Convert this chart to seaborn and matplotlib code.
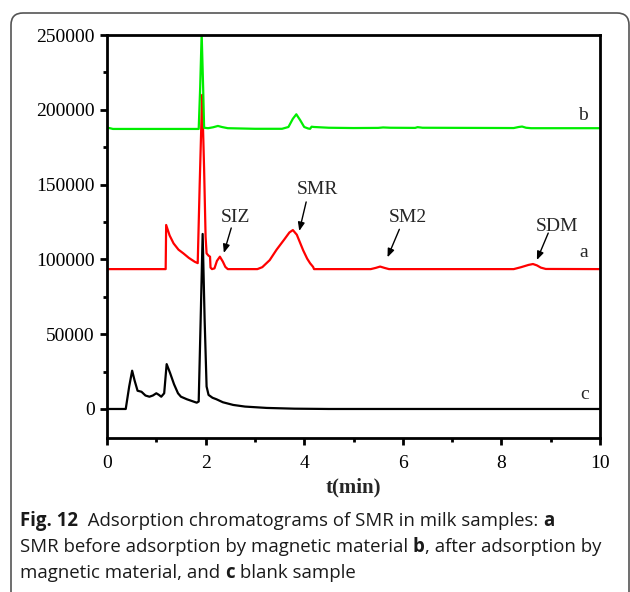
import numpy as np
import pandas as pd
import matplotlib
matplotlib.use("Agg")
import matplotlib.pyplot as plt
import seaborn as sns
from matplotlib.patches import FancyBboxPatch
from matplotlib.transforms import IdentityTransform
from matplotlib.ticker import MultipleLocator

# ---- data ----
t_c = [0, 0.38, 0.45, 0.51, 0.56, 0.62, 0.70, 0.78, 0.86, 0.93, 1.00, 1.05, 1.10, 1.16, 1.21,
       1.28, 1.36, 1.44, 1.50, 1.62, 1.75, 1.82, 1.86, 1.90, 1.94, 1.98, 2.02, 2.06, 2.14, 2.22,
       2.35, 2.56, 2.80, 3.24, 3.80, 4.50, 10.0]
y_c = [0, 0, 15000, 25600, 19000, 12200, 11500, 9000, 8200, 9000, 10500, 9500, 8200, 10500, 30000,
       24000, 16500, 10500, 8200, 6500, 5000, 4200, 5000, 60000, 117000, 60000, 15000, 9400, 7500, 6500,
       4500, 2700, 1600, 700, 200, 0, 0]

t_a = [0, 1.19, 1.20, 1.27, 1.35, 1.45, 1.55, 1.66, 1.78, 1.84, 1.88, 1.93, 1.97, 2.00, 2.02, 2.06,
       2.09, 2.10, 2.13, 2.18, 2.23, 2.29, 2.35, 2.40, 2.45, 3.05, 3.15, 3.30, 3.44, 3.60, 3.70, 3.77,
       3.85, 3.98, 4.06, 4.12, 4.18, 4.20, 5.35, 5.45, 5.54, 5.63, 5.72, 8.25, 8.40, 8.55, 8.64, 8.72,
       8.80, 8.90, 10.0]
y_a = [93500, 93500, 123000, 116000, 110700, 106500, 104000, 101000, 98400, 97500, 150000, 210000,
       160000, 115000, 104000, 102500, 101800, 94500, 93500, 94000, 99000, 101800, 98500, 95000, 93500,
       93500, 94800, 99500, 106500, 113500, 118000, 119600, 116500, 106000, 100500, 97400, 95000, 93500,
       93500, 94300, 95200, 94300, 93500, 93500, 94800, 96300, 96900, 96000, 94500, 93600, 93500]

t_b = [0, 0.06, 0.12, 1.86, 1.89, 1.92, 1.95, 1.97, 2.05, 2.15, 2.25, 2.33, 2.45, 3.00, 3.55, 3.68,
       3.77, 3.84, 3.92, 4.00, 4.08, 4.12, 4.15, 4.20, 4.50, 5.00, 5.50, 5.60, 5.75, 6.25, 6.30, 6.40,
       8.25, 8.35, 8.42, 8.50, 8.60, 10.0]
y_b = [188000, 187700, 187200, 187200, 215000, 251000, 215000, 188000, 187700, 188300, 189200, 188500,
       187700, 187300, 187300, 188500, 194000, 197000, 193000, 188500, 187500, 187300, 188700, 188500,
       188000, 187800, 187900, 188200, 188000, 187900, 188400, 188000, 187800, 188500, 188800, 188000,
       187700, 187700]

curve_labels = ["b", "a", "c"]
peak_names = ["SIZ", "SMR", "SM2", "SDM"]
x_ticks = [0, 2, 4, 6, 8, 10]
y_ticks = [0, 50000, 100000, 150000, 200000, 250000]

# ---- style ----
sns.set_style("ticks")
plt.rcParams["font.family"] = ["Liberation Serif", "DejaVu Serif"]
plt.rcParams["axes.linewidth"] = 2.0

W, H = 630, 592
fig = plt.figure(figsize=(W / 100, H / 100), dpi=100)
fig.patch.set_facecolor("white")

# rounded frame around figure
frame = FancyBboxPatch((11, -30), 618, H - 13 + 30,
                       boxstyle="round,pad=0,rounding_size=12",
                       transform=IdentityTransform(), fill=False,
                       edgecolor="#555555", linewidth=1.2)
fig.patches.append(frame)

ax = fig.add_axes([107 / W, 1 - 438 / H, 493 / W, 403 / H])

sns.lineplot(x=t_a, y=y_a, color="#ff0000", lw=1.6, sort=False, estimator=None, ax=ax)
sns.lineplot(x=t_c, y=y_c, color="black", lw=1.6, sort=False, estimator=None, ax=ax)
sns.lineplot(x=t_b, y=y_b, color="#00ee00", lw=1.6, sort=False, estimator=None, ax=ax)

ax.set_xlim(0, 10)
ax.set_ylim(-19400, 250000)
ax.set_xticks(x_ticks)
ax.set_yticks(y_ticks)
ax.set_xticklabels([str(v) for v in x_ticks])
ax.set_yticklabels([str(v) for v in y_ticks])
ax.xaxis.set_minor_locator(MultipleLocator(1))
ax.yaxis.set_minor_locator(MultipleLocator(25000))
for s in ax.spines.values():
    s.set_visible(True)
    s.set_linewidth(2.0)
    s.set_color("black")
ax.tick_params(which="major", direction="out", length=5, width=2, labelsize=14, pad=4, colors="black")
ax.tick_params(which="minor", direction="out", length=3, width=2, colors="black")
ax.tick_params(axis="x", which="major", pad=7)
ax.set_xlabel("t(min)", fontsize=15, fontweight="bold", labelpad=4)
ax.set_ylabel("")

# curve labels
ax.text(9.66, 196500, curve_labels[0], fontsize=14, ha="center", va="center")
ax.text(9.66, 104300, curve_labels[1], fontsize=14, ha="center", va="center")
ax.text(9.68, 9400, curve_labels[2], fontsize=14, ha="center", va="center")

# peak annotations
ann = [
    (peak_names[0], (2.60, 128300), (2.52, 121000), (2.37, 104300)),
    (peak_names[1], (4.26, 146400), (4.04, 138400), (3.90, 119000)),
    (peak_names[2], (6.11, 128300), (5.93, 120100), (5.69, 101400)),
    (peak_names[3], (9.12, 122300), (8.95, 117600), (8.72, 99600)),
]
for name, tpos, tail, tip in ann:
    ax.text(tpos[0], tpos[1], name, fontsize=14, ha="center", va="center")
    ax.annotate("", xy=tip, xytext=tail,
                arrowprops=dict(arrowstyle="-|>,head_length=0.5,head_width=0.2",
                                color="black", lw=1.0, shrinkA=0, shrinkB=0))

# caption
cap_font = ["Open Sans", "DejaVu Sans"]
cap_size = 13.4
lines = [
    [("Fig. 12", "bold"), ("  Adsorption chromatograms of SMR in milk samples: ", "normal"), ("a", "bold")],
    [("SMR before adsorption by magnetic material ", "normal"), ("b", "bold"), (", after adsorption by", "normal")],
    [("magnetic material, and ", "normal"), ("c", "bold"), (" blank sample", "normal")],
]
baselines = [526, 552, 578]
fig.canvas.draw()
renderer = fig.canvas.get_renderer()
for line, yb in zip(lines, baselines):
    x = 20
    for txt, wt in line:
        t = fig.text(x, H - yb, txt, transform=IdentityTransform(), family=cap_font,
                     fontsize=cap_size, fontweight=wt, va="baseline", ha="left", color="#1a1a1a")
        bb = t.get_window_extent(renderer)
        x += bb.width

fig.savefig("out.png", dpi=100, facecolor="white")
